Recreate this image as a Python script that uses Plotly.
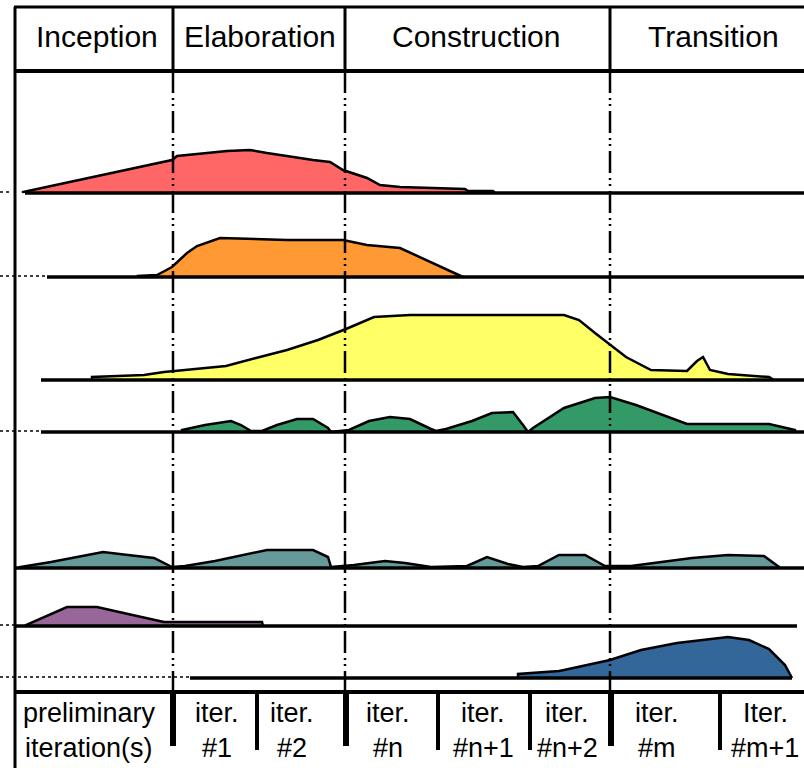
import plotly.graph_objects as go

W, H = 804, 768
FONT = "Liberation Sans, Arial, sans-serif"

# ---- phases (header) ----
phase_names = ["Inception", "Elaboration", "Construction", "Transition"]
phase_label_x = [97, 260, 476, 713]
phase_bounds = [173, 345, 610]

# ---- iterations (footer) ----
iter_top = ["preliminary", "iter.", "iter.", "iter.", "iter.", "iter.", "iter.", "Iter."]
iter_bottom = ["iteration(s)", "#1", "#2", "#n", "#n+1", "#n+2", "#m", "#m+1"]
iter_label_x = [89, 217, 292, 388, 483, 567, 657, 765]
iter_bounds = [173, 257, 346, 438, 530, 611, 720]
iter_major = [True, False, True, False, False, True, False]

# ---- discipline lanes: baseline position of each lane ----
lane_base = [193, 277, 380, 432, 568, 626, 678]
lane_colors = ["#FF6666", "#FF9933", "#FFFF66", "#339966", "#669999", "#996699", "#336699"]
lane_start = [25, 47, 41, 41, 14, 15, 190]
lane_end = [804, 804, 804, 804, 804, 797, 792]
lane_leader_end = [10, 45, 0, 40, 0, 15, 190]

# effort curves (time position, effort height)
red_x = [23, 172, 177, 197, 227, 250, 267, 313, 330, 343, 367, 380, 400, 465, 468, 493, 495]
red_h = [1, 33, 37, 39, 42, 43, 40, 33, 31, 23, 15, 8, 6, 4, 2, 2, 0]

orange_x = [138, 157, 172, 187, 197, 220, 287, 343, 367, 400, 463]
orange_h = [1, 2, 10, 24, 31, 39, 37, 37, 32, 29, 0]

yellow_x = [92, 144, 164, 185, 226, 256, 287, 318, 346, 374, 410, 564, 579, 595, 610,
            626, 651, 687, 697, 703, 710, 728, 769, 774]
yellow_h = [3, 5, 8, 10, 14, 22, 30, 40, 51, 63, 65, 65, 60, 47, 35,
            23, 10, 9, 19, 23, 10, 6, 3, 0]

green_x = [182, 205, 231, 241, 251, 262, 277, 297, 313, 328, 331, 349, 369, 390, 410, 431,
           436, 446, 472, 492, 513, 523, 528, 533, 564, 595, 610, 636, 672, 687, 769, 795]
green_h = [2, 7, 11, 7, 1, 1, 7, 13, 13, 4, 0, 2, 11, 15, 13, 3,
           1, 3, 11, 19, 20, 7, 0, 4, 24, 34, 35, 27, 14, 8, 8, 2]

teal_x = [20, 51, 103, 128, 154, 172, 185, 215, 267, 313, 328, 331, 354, 385, 405, 431,
          467, 487, 508, 523, 538, 559, 585, 605, 631, 692, 728, 764, 779]
teal_h = [1, 6, 16, 13, 10, 1, 2, 7, 18, 18, 11, 1, 3, 7, 5, 1,
          2, 11, 4, 1, 2, 13, 13, 2, 2, 10, 13, 12, 1]

purple_x = [26, 67, 97, 128, 164, 169, 262, 263]
purple_h = [1, 19, 19, 12, 4, 4, 4, 0]

blue_x = [518, 559, 564, 610, 641, 677, 728, 749, 769, 785, 792]
blue_h = [4, 7, 8, 18, 28, 35, 41, 38, 29, 13, 0]

lane_x = [red_x, orange_x, yellow_x, green_x, teal_x, purple_x, blue_x]
lane_h = [red_h, orange_h, yellow_h, green_h, teal_h, purple_h, blue_h]

fig = go.Figure()

for xs, hs, base, col in zip(lane_x, lane_h, lane_base, lane_colors):
    px = [xs[0]] + list(xs) + [xs[-1]]
    py = [base] + [base - v for v in hs] + [base]
    fig.add_trace(go.Scatter(x=px, y=py, mode="lines", fill="toself", fillcolor=col,
                             line=dict(color="black", width=2.5), hoverinfo="skip",
                             showlegend=False))

shapes = []
def line(x0, y0, x1, y1, w, dash="solid"):
    shapes.append(dict(type="line", xref="x", yref="y", x0=x0, y0=y0, x1=x1, y1=y1,
                       line=dict(color="black", width=w, dash=dash)))

# lane baselines and dotted leaders
for base, s, e, le in zip(lane_base, lane_start, lane_end, lane_leader_end):
    line(s, base, e, base, 3.5)
    if le > 0:
        line(0, base - 1, le, base - 1, 1.5, "dot")

# header box
line(14, 7, W, 7, 3)
line(14, 71, W, 71, 4)
for bx in phase_bounds:
    line(bx, 7, bx, 71, 3)
# left border
line(15, 7, 15, H, 3)
# phase boundaries through the lanes
for bx in phase_bounds:
    line(bx, 71, bx, 692, 2.5, "22px,5px,2px,4px,2px,5px")
# footer line and iteration dividers
line(14, 692, W, 692, 4)
for bx, major in zip(iter_bounds, iter_major):
    line(bx, 692, bx, 746 if major else 750, 6 if major else 4)

annotations = []
for name, x in zip(phase_names, phase_label_x):
    annotations.append(dict(x=x, y=36, xref="x", yref="y", text=name, showarrow=False,
                            font=dict(family=FONT, size=30, color="black"),
                            xanchor="center", yanchor="middle"))
for t, b, x in zip(iter_top, iter_bottom, iter_label_x):
    annotations.append(dict(x=x, y=713, xref="x", yref="y", text=t, showarrow=False,
                            font=dict(family=FONT, size=27, color="black"),
                            xanchor="center", yanchor="middle"))
    annotations.append(dict(x=x, y=748, xref="x", yref="y", text=b, showarrow=False,
                            font=dict(family=FONT, size=27, color="black"),
                            xanchor="center", yanchor="middle"))

fig.update_layout(
    width=W, height=H,
    margin=dict(l=0, r=0, t=0, b=0),
    paper_bgcolor="white", plot_bgcolor="white",
    xaxis=dict(range=[0, W], visible=False, fixedrange=True),
    yaxis=dict(range=[H, 0], visible=False, fixedrange=True),
    shapes=shapes, annotations=annotations, showlegend=False,
)

fig.write_html("out.html", config={"displayModeBar": False},
               post_script="document.body.style.margin='0px';document.body.style.overflow='hidden';")
